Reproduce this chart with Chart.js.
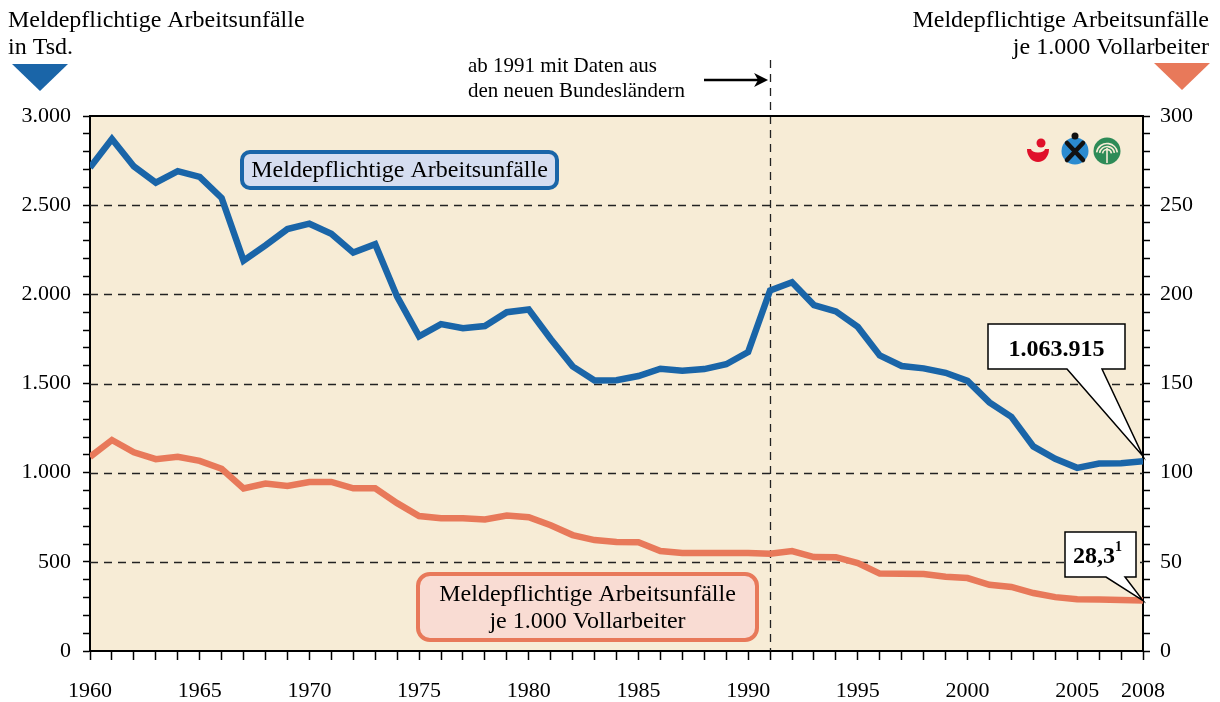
<!DOCTYPE html>
<html><head><meta charset="utf-8">
<script src="https://cdn.jsdelivr.net/npm/chart.js@4.4.1/dist/chart.umd.min.js"></script>
<style>html,body{margin:0;padding:0;background:#fff;}#wrap{width:1220px;height:702px;}</style>
</head><body><div id="wrap"><canvas id="c" width="1220" height="702"></canvas></div>
<script>
const years = [1960,1961,1962,1963,1964,1965,1966,1967,1968,1969,1970,1971,1972,1973,1974,1975,1976,1977,1978,1979,1980,1981,1982,1983,1984,1985,1986,1987,1988,1989,1990,1991,1992,1993,1994,1995,1996,1997,1998,1999,2000,2001,2002,2003,2004,2005,2006,2007,2008];
const accidentsTsd = [2711,2871,2717,2626,2691,2659,2540,2189,2275,2366,2396,2340,2234,2281,1987,1764,1833,1810,1822,1900,1915,1750,1596,1517,1518,1542,1583,1571,1581,1608,1676,2022,2068,1940,1904,1817,1657,1598,1585,1560,1515,1394,1313,1147,1078,1027,1051,1053,1063.915];
const ratePer1000 = [108.9,118.3,111.4,107.6,108.9,106.6,102.2,91.2,93.9,92.5,94.8,94.8,91.2,91.2,82.9,75.7,74.5,74.4,73.8,76.0,75.0,70.5,65.0,62.2,61.1,61.0,56.1,55.0,55.0,55.0,55.0,54.6,56.0,52.7,52.6,49.3,43.4,43.3,43.2,41.6,40.9,37.1,35.9,32.5,30.2,29.0,28.9,28.6,28.3];
const xLabelYears = [1960,1965,1970,1975,1980,1985,1990,1995,2000,2005,2008];
const leftMajor = [0,500,1000,1500,2000,2500,3000];
const rightMajor = [0,50,100,150,200,250,300];
const gridValues = [500,1000,1500,2000,2500];
const markerYear = 1991;
const seriesNames = ['Meldepflichtige Arbeitsunfälle', 'Meldepflichtige Arbeitsunfälle', 'je 1.000 Vollarbeiter'];
const headerLeft = ['Meldepflichtige Arbeitsunfälle', 'in Tsd.'];
const headerRight = ['Meldepflichtige Arbeitsunfälle', 'je 1.000 Vollarbeiter'];
const noteLines = ['ab 1991 mit Daten aus', 'den neuen Bundesländern'];
const calloutAccidents = '1.063.915';
const calloutRate = '28,3';
const calloutRateSup = '1';

const FONT = '"Liberation Serif", "Times New Roman", serif';
const BLUE = '#1A65A8', ORANGE = '#E8795A', BG = '#F7ECD6';

function fmtDE(v){ return v >= 1000 ? Math.floor(v/1000) + '.' + String(v % 1000).padStart(3,'0') : String(v); }

function rr(ctx,x,y,w,h,r){ ctx.beginPath(); ctx.moveTo(x+r,y); ctx.lineTo(x+w-r,y); ctx.arcTo(x+w,y,x+w,y+r,r); ctx.lineTo(x+w,y+h-r); ctx.arcTo(x+w,y+h,x+w-r,y+h,r); ctx.lineTo(x+r,y+h); ctx.arcTo(x,y+h,x,y+h-r,r); ctx.lineTo(x,y+r); ctx.arcTo(x,y,x+r,y,r); ctx.closePath(); }

function callout(ctx, x, y, w, h, p1, p2, tip){
  ctx.beginPath();
  ctx.moveTo(x,y); ctx.lineTo(x+w,y); ctx.lineTo(x+w,y+h); ctx.lineTo(p2,y+h); ctx.lineTo(tip.x,tip.y); ctx.lineTo(p1,y+h); ctx.lineTo(x,y+h); ctx.closePath();
  ctx.fillStyle = '#fff'; ctx.fill(); ctx.strokeStyle = '#000'; ctx.lineWidth = 1.5; ctx.setLineDash([]); ctx.stroke();
}

const deco = {
  id: 'deco',
  beforeDraw(chart){
    const {ctx, chartArea:a} = chart;
    ctx.save();
    ctx.fillStyle = '#fff'; ctx.fillRect(0,0,chart.width,chart.height);
    ctx.fillStyle = BG; ctx.fillRect(a.left,a.top,a.right-a.left,a.bottom-a.top);
    ctx.restore();
  },
  beforeDatasetsDraw(chart){
    const {ctx, chartArea:a, scales} = chart;
    ctx.save();
    ctx.strokeStyle = '#222'; ctx.lineWidth = 1.3; ctx.setLineDash([8,6]);
    for (const v of gridValues){
      const py = Math.round(scales.y.getPixelForValue(v)) + 0.5;
      ctx.beginPath(); ctx.moveTo(a.left, py); ctx.lineTo(a.right, py); ctx.stroke();
    }
    const px = Math.round(scales.x.getPixelForValue(markerYear)) + 0.5;
    ctx.beginPath(); ctx.moveTo(px, 60); ctx.lineTo(px, a.bottom); ctx.stroke();
    ctx.restore();
  },
  afterDatasetsDraw(chart){
    const {ctx, chartArea:a, scales} = chart;
    ctx.save();
    ctx.strokeStyle = '#000'; ctx.lineWidth = 2; ctx.beginPath(); ctx.moveTo(a.left-1, a.top); ctx.lineTo(a.right+1, a.top); ctx.stroke();

    ctx.fillStyle = '#000'; ctx.font = '24px ' + FONT; ctx.textBaseline = 'alphabetic';
    ctx.textAlign = 'left';
    ctx.fillText(headerLeft[0], 8, 27); ctx.fillText(headerLeft[1], 8, 54);
    ctx.textAlign = 'right';
    ctx.fillText(headerRight[0], 1209, 27); ctx.fillText(headerRight[1], 1209, 54);
    ctx.fillStyle = BLUE; ctx.beginPath(); ctx.moveTo(12,64); ctx.lineTo(68,64); ctx.lineTo(40,91); ctx.closePath(); ctx.fill();
    ctx.fillStyle = ORANGE; ctx.beginPath(); ctx.moveTo(1154,63); ctx.lineTo(1210,63); ctx.lineTo(1182,90); ctx.closePath(); ctx.fill();

    ctx.fillStyle = '#000'; ctx.font = '21px ' + FONT; ctx.textAlign = 'left';
    ctx.fillText(noteLines[0], 468, 72); ctx.fillText(noteLines[1], 468, 97);
    const mx = scales.x.getPixelForValue(markerYear);
    ctx.strokeStyle = '#000'; ctx.lineWidth = 2.5; ctx.beginPath(); ctx.moveTo(704, 80); ctx.lineTo(mx-10, 80); ctx.stroke();
    ctx.beginPath(); ctx.moveTo(mx-2, 80); ctx.lineTo(mx-16, 73); ctx.lineTo(mx-12, 80); ctx.lineTo(mx-16, 87); ctx.closePath(); ctx.fillStyle='#000'; ctx.fill();

    rr(ctx, 242, 152, 315, 36, 8); ctx.fillStyle = '#D5DDF0'; ctx.fill(); ctx.strokeStyle = BLUE; ctx.lineWidth = 4; ctx.stroke();
    ctx.fillStyle = '#000'; ctx.font = '24px ' + FONT; ctx.textAlign = 'center';
    ctx.fillText(seriesNames[0], 399.5, 177);
    rr(ctx, 418, 574, 339, 66, 12); ctx.fillStyle = '#F9DCD3'; ctx.fill(); ctx.strokeStyle = ORANGE; ctx.lineWidth = 4; ctx.stroke();
    ctx.fillStyle = '#000';
    ctx.fillText(seriesNames[1], 587.5, 601); ctx.fillText(seriesNames[2], 587.5, 628);

    const n = years.length - 1;
    const m0 = chart.getDatasetMeta(0).data[n], m1 = chart.getDatasetMeta(1).data[n];
    callout(ctx, 988, 324, 137, 45, 1067, 1102, {x: m0.x, y: m0.y - 5});
    ctx.fillStyle = '#000'; ctx.font = 'bold 24px ' + FONT; ctx.textAlign = 'center';
    ctx.fillText(calloutAccidents, 1056.5, 356);
    callout(ctx, 1065, 532, 71, 45, 1106, 1125, {x: m1.x, y: m1.y});
    ctx.fillStyle = '#000'; ctx.font = 'bold 24px ' + FONT; ctx.textAlign = 'left';
    ctx.fillText(calloutRate, 1073, 563);
    ctx.font = 'bold 14px ' + FONT; ctx.fillText(calloutRateSup, 1115, 551);

    // logos
    ctx.fillStyle = '#E0102A';
    ctx.beginPath(); ctx.ellipse(1038, 149, 11, 13, 0, 0, Math.PI); ctx.closePath(); ctx.fill();
    ctx.fillStyle = BG; ctx.beginPath(); ctx.ellipse(1038, 149, 7, 3.5, 0, 0, Math.PI); ctx.fill();
    ctx.fillStyle = '#E0102A'; ctx.beginPath(); ctx.arc(1041, 143, 4.5, 0, Math.PI*2); ctx.fill();
    ctx.fillStyle = '#2B8BD0'; ctx.beginPath(); ctx.arc(1075, 151, 13.5, 0, Math.PI*2); ctx.fill();
    ctx.strokeStyle = '#111'; ctx.lineWidth = 4.5; ctx.lineCap = 'round';
    ctx.beginPath(); ctx.moveTo(1067, 143); ctx.lineTo(1083, 160); ctx.moveTo(1083, 143); ctx.lineTo(1067, 160); ctx.stroke();
    ctx.fillStyle = '#111'; ctx.beginPath(); ctx.arc(1075, 136, 3.5, 0, Math.PI*2); ctx.fill();
    ctx.fillStyle = '#2E8B57'; ctx.beginPath(); ctx.arc(1107, 151, 13.5, 0, Math.PI*2); ctx.fill();
    ctx.strokeStyle = BG; ctx.lineWidth = 1.6; ctx.lineCap = 'butt';
    for (const r of [10.5, 7.5, 4.5]){ ctx.beginPath(); ctx.arc(1107, 154, r, Math.PI*1.05, Math.PI*1.95); ctx.stroke(); }
    ctx.beginPath(); ctx.moveTo(1107, 148); ctx.lineTo(1107, 163); ctx.stroke();
    ctx.restore();
  }
};

const tickFont = {family: FONT, size: 22};
new Chart(document.getElementById('c'), {
  type: 'line',
  data: {
    datasets: [
      {label: seriesNames[0], data: years.map((x,i)=>({x, y: accidentsTsd[i]})), yAxisID: 'y', borderColor: BLUE, borderWidth: 6.5, pointRadius: 0, tension: 0, borderJoinStyle: 'miter', fill: false},
      {label: seriesNames[1] + ' ' + seriesNames[2], data: years.map((x,i)=>({x, y: ratePer1000[i]})), yAxisID: 'y2', borderColor: ORANGE, borderWidth: 6.5, pointRadius: 0, tension: 0, borderJoinStyle: 'miter', fill: false}
    ]
  },
  options: {
    responsive: false, animation: false, devicePixelRatio: 1,
    layout: {padding: {top: 116, left: 0, right: 0, bottom: 0}},
    plugins: {legend: {display: false}, tooltip: {enabled: false}},
    scales: {
      x: {type: 'linear', min: 1960, max: 2008,
        ticks: {stepSize: 1, autoSkip: false, maxRotation: 0, minRotation: 0, color: '#000', font: tickFont, padding: 18,
          callback: v => xLabelYears.includes(v) ? String(v) : ''},
        grid: {drawOnChartArea: false, drawTicks: true, tickLength: 9, tickColor: '#000', tickWidth: 1.5},
        border: {color: '#000', width: 2},
        afterFit(s){ s.height = 51; }},
      y: {position: 'left', min: 0, max: 3000,
        ticks: {stepSize: 100, autoSkip: false, color: '#000', font: tickFont, padding: 12,
          callback: v => leftMajor.includes(v) ? fmtDE(v) : ''},
        grid: {drawOnChartArea: false, drawTicks: true, tickLength: 7, tickColor: '#000', tickWidth: 1.5},
        border: {color: '#000', width: 2},
        afterFit(s){ s.width = 90; }},
      y2: {position: 'right', min: 0, max: 300,
        ticks: {stepSize: 10, autoSkip: false, color: '#000', font: tickFont, padding: 10,
          callback: v => rightMajor.includes(v) ? String(v) : ''},
        grid: {drawOnChartArea: false, drawTicks: true, tickLength: 7, tickColor: '#000', tickWidth: 1.5},
        border: {color: '#000', width: 2},
        afterFit(s){ s.width = 77; }}
    }
  },
  plugins: [deco]
});
</script>
</body></html>
